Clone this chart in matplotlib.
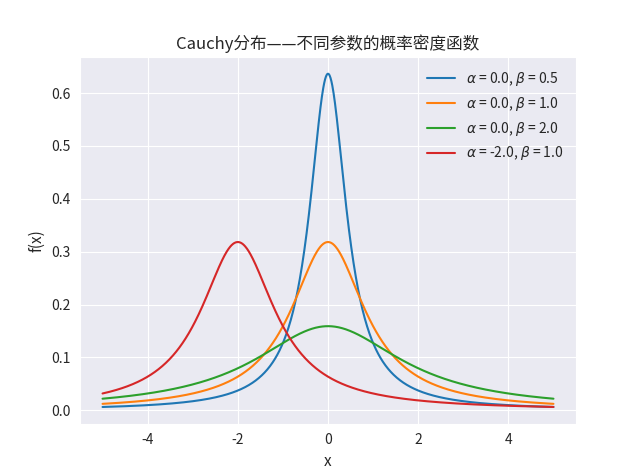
import numpy as np
import matplotlib
matplotlib.use("Agg")
import matplotlib.pyplot as plt
import seaborn as sns

sns.set_style("darkgrid")
plt.rcParams['font.family'] = ['Noto Sans CJK SC', 'DejaVu Sans']
plt.rcParams['axes.unicode_minus'] = False

alphas = [0.0, 0.0, 0.0, -2.0]
betas = [0.5, 1.0, 2.0, 1.0]
x_min, x_max, n_points = -5, 5, 1000

x = np.linspace(x_min, x_max, n_points)
fig, ax = plt.subplots(figsize=(6.4, 4.76), dpi=100)
for a, b in zip(alphas, betas):
    y = b / (np.pi * (b**2 + (x - a)**2))
    ax.plot(x, y, label=r"$\alpha$ = %.1f, $\beta$ = %.1f" % (a, b))
ax.set_title("Cauchy分布——不同参数的概率密度函数", fontsize=12)
ax.set_xlabel("x", fontsize=11)
ax.set_ylabel("f(x)", fontsize=11)
ax.legend(fontsize=10, frameon=False)
fig.savefig("out.png")
